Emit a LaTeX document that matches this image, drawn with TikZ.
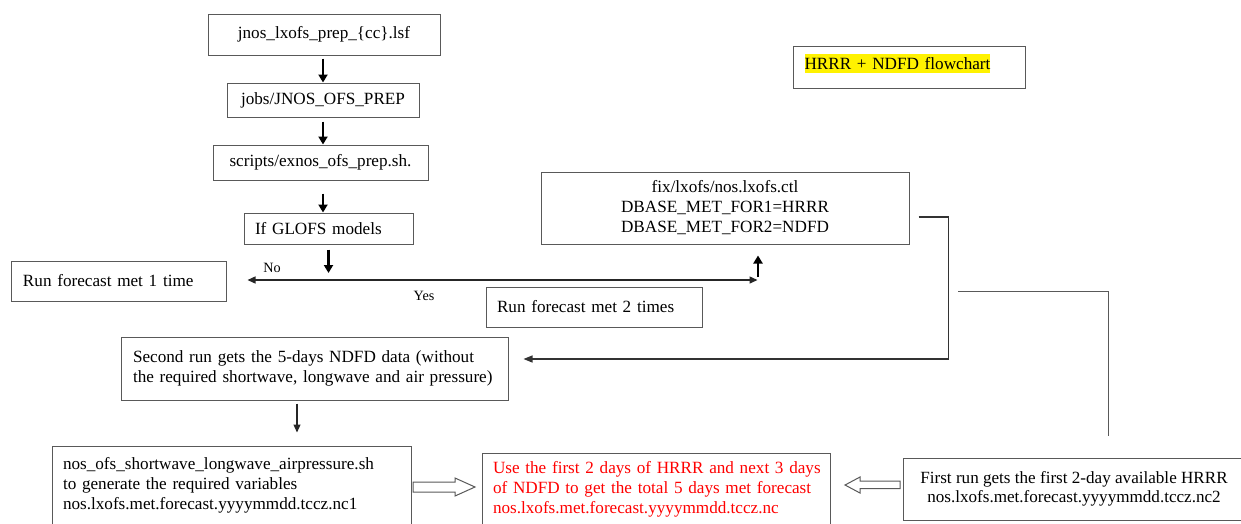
\documentclass[tikz,border=0pt]{standalone}
\usepackage{fontspec}
\setmainfont{Liberation Serif}
\usetikzlibrary{arrows.meta}
\newcommand\fsz{\fontsize{17.15}{20}\selectfont}
\newcommand\fsm{\fontsize{17.1}{19}\selectfont}
\newcommand\fss{\fontsize{14.2}{16}\selectfont}
\definecolor{bordercol}{HTML}{595959}
\tikzset{
  box/.style={draw=bordercol, line width=1pt, inner sep=0pt, font=\fsz, text=black},
  lbox/.style={box, align=left},
  cbox/.style={box, align=center},
  thk/.style={line width=2.2pt, -{Triangle[length=8pt,width=9pt]}},
  hline/.style={line width=1.4pt, black!85},
  thin/.style={line width=1.1pt, black!85, -{Triangle[length=8pt,width=7pt]}},
  conn/.style={line width=1.3pt, black!80},
  blockarrow/.style={draw=bordercol, line width=1pt, fill=white, line join=miter},
  lbl/.style={font=\fss, inner sep=0pt}
}
\begin{document}
\begin{tikzpicture}[x=1pt,y=1pt]
\useasboundingbox (0,0) rectangle (1241,-523);
\clip (0,0) rectangle (1241,-523);
% top chain
\node[cbox, minimum width=232, minimum height=41] (n1) at (324,-34.5) {jnos\_lxofs\_prep\_\{cc\}.lsf};
\node[cbox, minimum width=192, minimum height=34] (n2) at (323,-100) {jobs/JNOS\_OFS\_PREP};
\node[cbox, minimum width=215, minimum height=35] (n3) at (320.5,-162.5) {scripts/exnos\_ofs\_prep.sh.};
\node[lbox, minimum width=169, minimum height=31, text width=147] (n4) at (328.5,-228.5) {If GLOFS models};
% title
\node[box, anchor=north west, minimum width=232, inner xsep=11pt, inner ysep=0pt,
      text width=210, align=left, text height=22.7pt, text depth=19.3pt] (title) at (793,-46)
  {{\setlength{\fboxsep}{0pt}\colorbox{yellow}{\rule[-3.6pt]{0pt}{19.3pt}HRRR + NDFD flowchart}}};
% branch boxes
\node[lbox, minimum width=215, minimum height=40, text width=191] (run1) at (118.5,-281) {Run forecast met 1 time};
\node[cbox, minimum width=368, minimum height=72] (ctl) at (725,-208)
  {fix/lxofs/nos.lxofs.ctl\\DBASE\_MET\_FOR1=HRRR\\DBASE\_MET\_FOR2=NDFD};
\node[lbox, minimum width=216, minimum height=40, text width=194] (run2) at (594,-307) {Run forecast met 2 times};
\node[lbox, minimum width=387, minimum height=63, text width=363] (second) at (314.5,-368.5)
  {\mbox{Second run gets the 5-days NDFD data (without}\\\mbox{the required shortwave, longwave and air pressure)}};
\node[lbox, minimum width=359, minimum height=78, text width=337] (nos) at (231.5,-485)
  {\mbox{nos\_ofs\_shortwave\_longwave\_airpressure.sh}\\\mbox{to generate the required variables}\\\mbox{nos.lxofs.met.forecast.yyyymmdd.tccz.nc1}};
\node[lbox, minimum width=348, minimum height=72, text width=326, text=red] (red) at (656,-489)
  {\mbox{Use the first 2 days of HRRR and next 3 days}\\\mbox{of NDFD to get the total 5 days met forecast}\\\mbox{nos.lxofs.met.forecast.yyyymmdd.tccz.nc}};
\node[cbox, minimum width=342, minimum height=62, font=\fsm] (first) at (1074,-489)
  {First run gets the first 2-day available HRRR\\nos.lxofs.met.forecast.yyyymmdd.tccz.nc2};
% labels
\node[lbl] (no) at (272,-268) {No};
\node[lbl] (yes) at (424,-296) {Yes};
% coordinates
\coordinate (split) at (328.5,-280);
\coordinate (join) at (758,-280);
% chain arrows
\draw[thk] ([xshift=-1pt,yshift=-3pt]n1.south) -- (n2.north);
\draw[thk] ([yshift=-4pt]n2.south) -- ([xshift=2.5pt]n3.north);
\draw[thk] ([xshift=2.5pt,yshift=-13pt]n3.south) -- ([xshift=-5.5pt]n4.north);
\draw[thk] ([yshift=-5pt]n4.south) -- ([yshift=7pt]split);
% decision line
\draw[hline, {Triangle[length=8pt,width=7pt]}-{Triangle[length=8pt,width=7pt]}]
  ([xshift=21pt,yshift=1pt]run1.east) -- ([xshift=-0.5pt]join);
\draw[thk] ([yshift=3pt]join) -- ([xshift=33pt,yshift=-11pt]ctl.south);
% right connector to second run
\draw[conn, -{Triangle[length=9pt,width=7pt]}] ([shift={(9pt,-9pt)}]ctl.east) -- ++(30pt,0)
  |- ([shift={(15pt,9.5pt)}]second.east);
% free L line
\coordinate (la) at (958,-291);
\draw[line width=1pt, bordercol] (la) -| ([shift={(34pt,22pt)}]first.north);
% thin arrow
\draw[thin] ([shift={(-17.5pt,-3pt)}]second.south) -- ([xshift=65.5pt,yshift=13pt]nos.north);
% block arrows (hollow)
\draw[blockarrow] (413,-482) -- (455,-482) -- (455,-478) -- (475,-487) -- (455,-496) -- (455,-492) -- (413,-492) -- cycle;
\draw[blockarrow] (900,-481) -- (860,-481) -- (860,-477) -- (845,-485) -- (860,-493) -- (860,-488.5) -- (900,-488.5) -- cycle;
\end{tikzpicture}
\end{document}
